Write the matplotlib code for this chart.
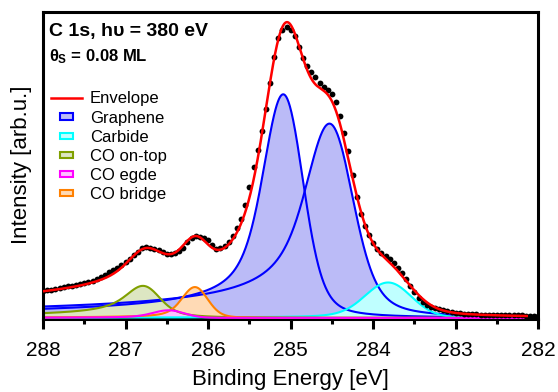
import numpy as np
import matplotlib
matplotlib.use("Agg")
import matplotlib.pyplot as plt
from matplotlib.patches import Rectangle, Patch
from matplotlib.lines import Line2D
from matplotlib.legend_handler import HandlerPatch

plt.rcParams["font.family"] = ["Liberation Sans", "DejaVu Sans"]
plt.rcParams["mathtext.fontset"] = "custom"
plt.rcParams["mathtext.rm"] = "Liberation Sans:bold"
plt.rcParams["mathtext.it"] = "Liberation Sans:bold"
plt.rcParams["mathtext.bf"] = "Liberation Sans:bold"

# measured C 1s spectrum, 0.05 eV steps starting at 288.00 eV
be_start = 288.00
be_step = 0.05
intensity = [
    0.088, 0.090, 0.092, 0.095, 0.097, 0.100, 0.103, 0.106, 0.108, 0.110,
    0.113, 0.117, 0.122, 0.128, 0.134, 0.141, 0.149, 0.157, 0.165, 0.174,
    0.183, 0.193, 0.205, 0.217, 0.228, 0.232, 0.230, 0.226, 0.221, 0.215,
    0.210, 0.209, 0.211, 0.219, 0.230, 0.247, 0.261, 0.267, 0.266, 0.262,
    0.254, 0.240, 0.227, 0.228, 0.236, 0.248, 0.268, 0.295, 0.325, 0.370,
    0.430, 0.495, 0.550, 0.612, 0.685, 0.770, 0.855, 0.915, 0.942, 0.952,
    0.942, 0.923, 0.888, 0.852, 0.825, 0.805, 0.787, 0.770, 0.757, 0.745,
    0.732, 0.708, 0.660, 0.605, 0.545, 0.468, 0.395, 0.340, 0.300, 0.270,
    0.245, 0.225, 0.213, 0.203, 0.193, 0.180, 0.164, 0.146, 0.127, 0.105,
    0.084, 0.066, 0.052, 0.042, 0.036, 0.032, 0.029, 0.025, 0.022, 0.019,
    0.017, 0.015, 0.014, 0.013, 0.012, 0.012, 0.011, 0.011, 0.010, 0.010,
    0.010, 0.009, 0.009, 0.009, 0.008, 0.008, 0.008, 0.007, 0.007, 0.007,
    0.007,
]
be = be_start - be_step * np.arange(len(intensity))

# fit components (in drawing order): Doniach-Sunjic x Gaussian line shapes
comp_label = ["Graphene", "Graphene", "Carbide", "CO on-top", "CO bridge", "CO egde"]
peak_pos = [284.53, 285.09, 283.82, 286.79, 286.16, 286.48]
peak_height = [0.636, 0.732, 0.116, 0.105, 0.101, 0.025]
asym_alpha = [0.170, 0.130, 0.045, 0.205, 0.074, 0.109]
lor_gamma = [0.116, 0.073, 0.028, 0.120, 0.036, 0.020]
gauss_sigma = [0.214, 0.197, 0.264, 0.134, 0.135, 0.177]
line_color = ["#0000ff", "#0000ff", "#00ffff", "#80a000", "#ff8000", "#ff00ff"]
fill_color = ["#bbbbf7", "#bbbbf7", "#bfffff", "#dde6c2", "#ffdab5", "#ffc0ff"]

legend_order = ["Graphene", "Carbide", "CO on-top", "CO egde", "CO bridge"]

fit_lo, fit_hi = 282.14, 288.3


def ds_gauss(x, pos, height, alpha, gamma, sigma, step=0.002):
    """Doniach-Sunjic line convolved with a Gaussian, scaled to its maximum."""
    grid = pos + step * np.arange(-4000, 4001)
    u = pos - grid
    ds = np.cos(np.pi * alpha / 2 + (1 - alpha) * np.arctan(u / gamma)) / (
        u ** 2 + gamma ** 2) ** ((1 - alpha) / 2)
    n = int(round(5 * sigma / step))
    k = step * np.arange(-n, n + 1)
    kern = np.exp(-0.5 * (k / sigma) ** 2)
    prof = np.convolve(ds, kern, mode="same")
    i = np.argmax(prof)
    return height * np.interp(x, grid + (pos - grid[i]), prof / prof[i])


x_fit = np.linspace(fit_lo, fit_hi, 2000)
components = [ds_gauss(x_fit, p, h, a, g, s) for p, h, a, g, s in
              zip(peak_pos, peak_height, asym_alpha, lor_gamma, gauss_sigma)]
envelope = np.sum(components, axis=0)

W, H = 558, 392
fig = plt.figure(figsize=(W / 100, H / 100), dpi=100)
ax = fig.add_axes([43 / W, (H - 319) / H, (538.3 - 43) / W, (319 - 11.5) / H])

for comp, lc, fc in zip(components, line_color, fill_color):
    ax.fill_between(x_fit, 0, comp, facecolor=fc, edgecolor="none", zorder=1)
    ax.plot(x_fit, comp, color=lc, lw=1.5, zorder=1.5)

ax.plot(be, intensity, "o", color="black", ms=4.2, mew=0, zorder=3)
ax.plot(x_fit, envelope, color="#ff0000", lw=1.8, zorder=4)

ax.set_xlim(288, 282)
ax.set_ylim(-0.0035, 1.003)
ax.set_xticks(np.arange(282, 288.5, 1.0))
ax.set_xticks(np.arange(282.5, 288, 1.0), minor=True)
ax.set_xticklabels([f"{int(t)}" for t in np.arange(282, 288.5, 1.0)])
ax.tick_params(axis="x", which="major", direction="out", length=7, width=2.2,
               pad=9, labelsize=15, top=False)
ax.tick_params(axis="x", which="minor", direction="out", length=3.6, width=2.2, top=False)
ax.tick_params(axis="y", which="both", left=False, labelleft=False)
for sp in ax.spines.values():
    sp.set_linewidth(2.2)
ax.spines["bottom"].set_zorder(0.5)

ax.set_xlabel("Binding Energy [eV]", fontsize=16)
ax.xaxis.set_label_coords(0.5, -0.1626)
ax.set_ylabel("Intensity [arb.u.]", fontsize=16)
ax.yaxis.set_label_coords(-0.0228, 0.5)

ax.text(0.012, 0.920, "C 1s, h\u03c5 = 380 eV", transform=ax.transAxes,
        fontsize=14, fontweight="bold", va="baseline", ha="left")
ax.text(0.012, 0.837, r"$\theta_S$ = 0.08 ML", transform=ax.transAxes,
        fontsize=12, fontweight="bold", va="baseline", ha="left")


def small_box(legend, orig_handle, xdescent, ydescent, width, height, fontsize):
    w, h = 0.42 * width, 0.55 * height
    return Rectangle((-xdescent + (width - w) / 2, -ydescent + (height - h) / 2), w, h)


handles = [Line2D([], [], color="#ff0000", lw=1.8)]
labels = ["Envelope"]
for name in legend_order:
    i = comp_label.index(name)
    handles.append(Patch(facecolor=fill_color[i], edgecolor=line_color[i], lw=1.5))
    labels.append(name)

ax.legend(handles, labels, loc="upper left", bbox_to_anchor=(0.0162, 0.740),
          frameon=False, fontsize=12, handlelength=1.85, handletextpad=0.48,
          labelspacing=0.245, borderpad=0, borderaxespad=0,
          handler_map={Patch: HandlerPatch(patch_func=small_box)})

fig.savefig("out.png", dpi=100)
